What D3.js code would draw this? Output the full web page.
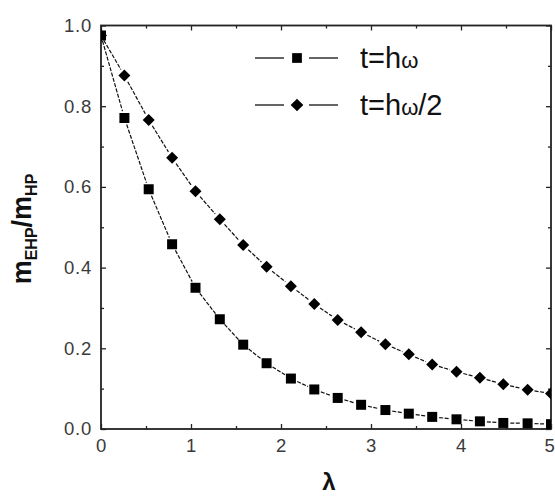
<!DOCTYPE html>
<html>
<head>
<meta charset="utf-8">
<script src="https://cdn.jsdelivr.net/npm/d3@7"></script>
<style>
  html, body { margin: 0; padding: 0; background: #fff; }
  svg { display: block; }
  text { font-family: "Liberation Sans", Arial, sans-serif; }
</style>
</head>
<body>
<svg id="chart" width="555" height="498"></svg>
<script>
// λ sample points shared by both curves
const lambda = [0, 0.26, 0.53, 0.79, 1.05, 1.32, 1.58, 1.84, 2.11, 2.37,
                2.63, 2.89, 3.16, 3.42, 3.68, 3.95, 4.21, 4.47, 4.74, 5.0];
// m_EHP / m_HP for t = hω
const ratioFull = [0.975, 0.771, 0.594, 0.458, 0.350, 0.272, 0.209, 0.163, 0.125, 0.098,
                   0.077, 0.060, 0.047, 0.038, 0.030, 0.024, 0.019, 0.015, 0.014, 0.012];
// m_EHP / m_HP for t = hω/2
const ratioHalf = [0.975, 0.876, 0.766, 0.672, 0.589, 0.520, 0.456, 0.402, 0.354, 0.310,
                   0.270, 0.240, 0.210, 0.185, 0.160, 0.142, 0.127, 0.111, 0.097, 0.088];
const seriesNames = ["t=hω", "t=hω/2"];
const xTicks = [0, 1, 2, 3, 4, 5];
const yTicks = [0.0, 0.2, 0.4, 0.6, 0.8, 1.0];

const svg = d3.select("#chart");
const m = { left: 101, top: 25.5, right: 4, bottom: 69 };
const W = 555 - m.left - m.right, H = 498 - m.top - m.bottom;

const x = d3.scaleLinear().domain([0, 5]).range([0, W]);
const y = d3.scaleLinear().domain([0, 1]).range([H, 0]);

const g = svg.append("g").attr("transform", `translate(${m.left},${m.top})`);

svg.append("defs").append("clipPath").attr("id", "plotClip")
  .append("rect").attr("x", 0).attr("y", 0).attr("width", W).attr("height", H);

// Axes: ticks point inward on all four sides
const tickCol = "#222";
function styleAxis(sel) {
  sel.selectAll(".domain").remove();
  sel.selectAll("line").attr("stroke", tickCol).attr("stroke-width", 1.3);
  sel.selectAll("text").attr("fill", "#3a3a3a").attr("font-size", 18.5)
    .attr("letter-spacing", 0.8);
}
const xMinor = d3.range(0.5, 5, 1);
const yMinor = d3.range(0.1, 1, 0.2);

const bottomAx = g.append("g").attr("transform", `translate(0,${H})`)
  .call(d3.axisBottom(x).tickValues(xTicks).tickFormat(d3.format("d")).tickSizeInner(-5).tickSizeOuter(0).tickPadding(10))
  .call(styleAxis);
// the last label sits against the window edge
bottomAx.selectAll(".tick text").filter(d => d === 5)
  .attr("text-anchor", "end").attr("x", 4);
g.append("g").attr("transform", `translate(0,${H})`)
  .call(d3.axisBottom(x).tickValues(xMinor).tickFormat("").tickSizeInner(-3).tickSizeOuter(0))
  .call(styleAxis);
g.append("g").call(d3.axisTop(x).tickValues(xTicks).tickFormat("").tickSizeInner(-5).tickSizeOuter(0)).call(styleAxis);
g.append("g").call(d3.axisTop(x).tickValues(xMinor).tickFormat("").tickSizeInner(-3).tickSizeOuter(0)).call(styleAxis);

g.append("g")
  .call(d3.axisLeft(y).tickValues(yTicks).tickFormat(d3.format(".1f")).tickSizeInner(-5).tickSizeOuter(0).tickPadding(9))
  .call(styleAxis);
g.append("g").call(d3.axisLeft(y).tickValues(yMinor).tickFormat("").tickSizeInner(-3).tickSizeOuter(0)).call(styleAxis);
g.append("g").attr("transform", `translate(${W},0)`)
  .call(d3.axisRight(y).tickValues(yTicks).tickFormat("").tickSizeInner(-5).tickSizeOuter(0)).call(styleAxis);
g.append("g").attr("transform", `translate(${W},0)`)
  .call(d3.axisRight(y).tickValues(yMinor).tickFormat("").tickSizeInner(-3).tickSizeOuter(0)).call(styleAxis);

// Frame
g.append("rect").attr("width", W).attr("height", H)
  .attr("fill", "none").attr("stroke", "#222").attr("stroke-width", 1.8);

// Series: thin connecting segments broken around each symbol
const plot = g.append("g").attr("clip-path", "url(#plotClip)");
const series = [
  { name: seriesNames[0], values: ratioFull, size: 100, rot: 0 },
  { name: seriesNames[1], values: ratioHalf, size: 72, rot: 45 }
];
const gap = 7;
series.forEach(s => {
  const pts = lambda.map((l, i) => [x(l), y(s.values[i])]);
  for (let i = 0; i < pts.length - 1; i++) {
    const [x0, y0] = pts[i], [x1, y1] = pts[i + 1];
    const len = Math.hypot(x1 - x0, y1 - y0);
    const g0 = i === 0 ? 0 : gap;
    if (len <= g0 + gap) continue;
    const ux = (x1 - x0) / len, uy = (y1 - y0) / len;
    plot.append("line")
      .attr("x1", x0 + ux * g0).attr("y1", y0 + uy * g0)
      .attr("x2", x1 - ux * gap).attr("y2", y1 - uy * gap)
      .attr("stroke", "#111").attr("stroke-width", 1.2)
      .attr("stroke-dasharray", "4,1.5");
  }
  plot.selectAll(null).data(pts).enter().append("path")
    .attr("transform", d => `translate(${d[0]},${d[1]}) rotate(${s.rot})`)
    .attr("d", d3.symbol().type(d3.symbolSquare).size(s.size))
    .attr("fill", "#000");
});

// Legend
const legend = svg.append("g");
series.forEach((s, i) => {
  const ly = 58 + i * 47;
  legend.append("line").attr("x1", 255).attr("x2", 284).attr("y1", ly).attr("y2", ly)
    .attr("stroke", "#111").attr("stroke-width", 1.3);
  legend.append("line").attr("x1", 309).attr("x2", 338).attr("y1", ly).attr("y2", ly)
    .attr("stroke", "#111").attr("stroke-width", 1.3);
  legend.append("path").attr("transform", `translate(297,${ly}) rotate(${s.rot})`)
    .attr("d", d3.symbol().type(d3.symbolSquare).size(i === 0 ? 95 : 80)).attr("fill", "#000");
  const t = legend.append("text").attr("x", 360).attr("y", ly + 10)
    .attr("font-size", 29).attr("fill", "#111");
  t.append("tspan").text("t=h");
  t.append("tspan").attr("font-size", 22).text("ω");
  if (i === 1) t.append("tspan").text("/2");
});

// Axis titles
svg.append("text").attr("x", 329).attr("y", 490).attr("text-anchor", "middle")
  .attr("font-size", 24).attr("font-weight", "bold").attr("font-family", "DejaVu Serif, serif")
  .attr("fill", "#111").text("λ");

const yt = svg.append("text").attr("transform", "translate(31,229) rotate(-90)")
  .attr("text-anchor", "middle").attr("font-weight", "bold").attr("fill", "#111").attr("font-size", 27);
yt.append("tspan").text("m");
yt.append("tspan").attr("font-size", 16).attr("dy", 6).text("EHP");
yt.append("tspan").attr("dy", -6).text("/m");
yt.append("tspan").attr("font-size", 16).attr("dy", 6).text("HP");
</script>
</body>
</html>
